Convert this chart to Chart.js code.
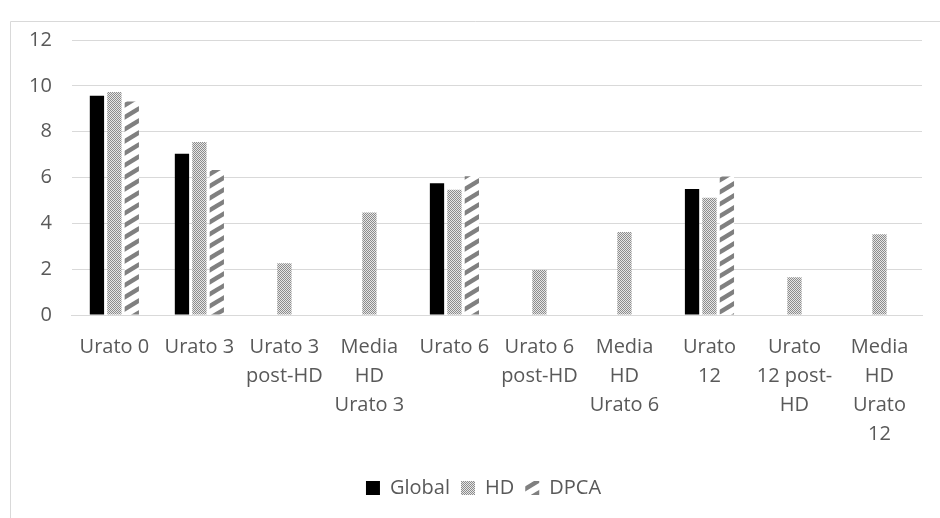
<!DOCTYPE html>
<html>
<head>
<meta charset="utf-8">
<script src="https://cdn.jsdelivr.net/npm/chart.js@4/dist/chart.umd.min.js"></script>
<style>
  html, body { margin: 0; padding: 0; background: #ffffff; }
  #wrap { position: relative; width: 940px; height: 518px; }
</style>
</head>
<body>
<div id="wrap"><canvas id="chart" width="940" height="518"></canvas></div>
<script>
// Categories (multi-line axis labels)
const categories = [
  ["Urato 0"],
  ["Urato 3"],
  ["Urato 3", "post-HD"],
  ["Media", "HD", "Urato 3"],
  ["Urato 6"],
  ["Urato 6", "post-HD"],
  ["Media", "HD", "Urato 6"],
  ["Urato", "12"],
  ["Urato", "12 post-", "HD"],
  ["Media", "HD", "Urato", "12"]
];

// Series values (null = no bar)
const globalValues = [9.57, 7.04, null, null, 5.75, null, null, 5.5, null, null];
const hdValues     = [9.73, 7.55, 2.26, 4.47, 5.47, 1.96, 3.62, 5.12, 1.65, 3.52];
const dpcaValues   = [9.32, 6.33, null, null, 6.06, null, null, 6.04, null, null];

// Y-axis ticks
const yTicks = [0, 2, 4, 6, 8, 10, 12];

const textColor = '#595959';
const gridColor = '#d9d9d9';
const fontFamily = "'Open Sans', 'Noto Sans', sans-serif";

// Fine dotted fill for HD
function dotPattern() {
  const c = document.createElement('canvas');
  c.width = 4; c.height = 4;
  const g = c.getContext('2d');
  g.fillStyle = '#e6e6e6';
  g.fillRect(0, 0, 4, 4);
  g.fillStyle = '#8c8c8c';
  for (let i = 0; i < 4; i++) {
    for (let j = 0; j < 4; j++) {
      if ((i + j) % 2 === 0) g.fillRect(i, j, 1, 1);
    }
  }
  return g.createPattern(c, 'repeat');
}

// Wide upward diagonal stripes for DPCA
function stripePattern() {
  const w = 20, h = 12;
  const c = document.createElement('canvas');
  c.width = w; c.height = h;
  const g = c.getContext('2d');
  g.fillStyle = '#ffffff';
  g.fillRect(0, 0, w, h);
  g.strokeStyle = '#808080';
  g.lineWidth = 4.5;
  const slope = h / w;
  for (let k = 0; k <= 2; k++) {
    g.beginPath();
    g.moveTo(-w, k * h + slope * w);
    g.lineTo(2 * w, k * h - slope * 2 * w);
    g.stroke();
  }
  return g.createPattern(c, 'repeat');
}

// Light frame along the top and left edges
const framePlugin = {
  id: 'frame',
  beforeDraw(chart) {
    const ctx = chart.ctx;
    ctx.save();
    ctx.strokeStyle = gridColor;
    ctx.lineWidth = 1;
    ctx.beginPath();
    ctx.moveTo(10.5, chart.height);
    ctx.lineTo(10.5, 21.5);
    ctx.lineTo(chart.width, 21.5);
    ctx.stroke();
    ctx.restore();
  }
};

// Nudge the legend row to the right
const legendShift = {
  id: 'legendShift',
  afterLayout(chart) {
    const lg = chart.legend;
    if (lg) { lg.left += 18; lg.right += 18; }
  }
};

new Chart(document.getElementById('chart'), {
  type: 'bar',
  data: {
    labels: categories,
    datasets: [
      { label: 'Global', data: globalValues, backgroundColor: '#000000' },
      { label: 'HD', data: hdValues, backgroundColor: dotPattern() },
      { label: 'DPCA', data: dpcaValues, backgroundColor: stripePattern() }
    ]
  },
  options: {
    responsive: false,
    animation: false,
    datasets: {
      bar: { categoryPercentage: 0.615, barPercentage: 0.82 }
    },
    layout: { padding: { left: 9, right: 18, top: 40, bottom: 10 } },
    plugins: {
      tooltip: { enabled: false },
      legend: {
        position: 'bottom',
        labels: {
          color: textColor,
          boxWidth: 14,
          boxHeight: 14,
          padding: 11,
          font: { family: fontFamily, size: 20 }
        }
      }
    },
    scales: {
      x: {
        grid: { display: false, drawTicks: false },
        border: { display: true, color: gridColor, width: 1 },
        ticks: {
          color: textColor,
          padding: 18,
          maxRotation: 0,
          autoSkip: false,
          font: { family: fontFamily, size: 20, lineHeight: 1.45 }
        }
      },
      y: {
        min: 0,
        max: 12,
        afterBuildTicks(axis) { axis.ticks = yTicks.map(v => ({ value: v })); },
        grid: { color: gridColor, drawTicks: false },
        border: { display: false },
        ticks: {
          color: textColor,
          padding: 20,
          font: { family: fontFamily, size: 20 }
        }
      }
    }
  },
  plugins: [framePlugin, legendShift]
});
</script>
</body>
</html>
